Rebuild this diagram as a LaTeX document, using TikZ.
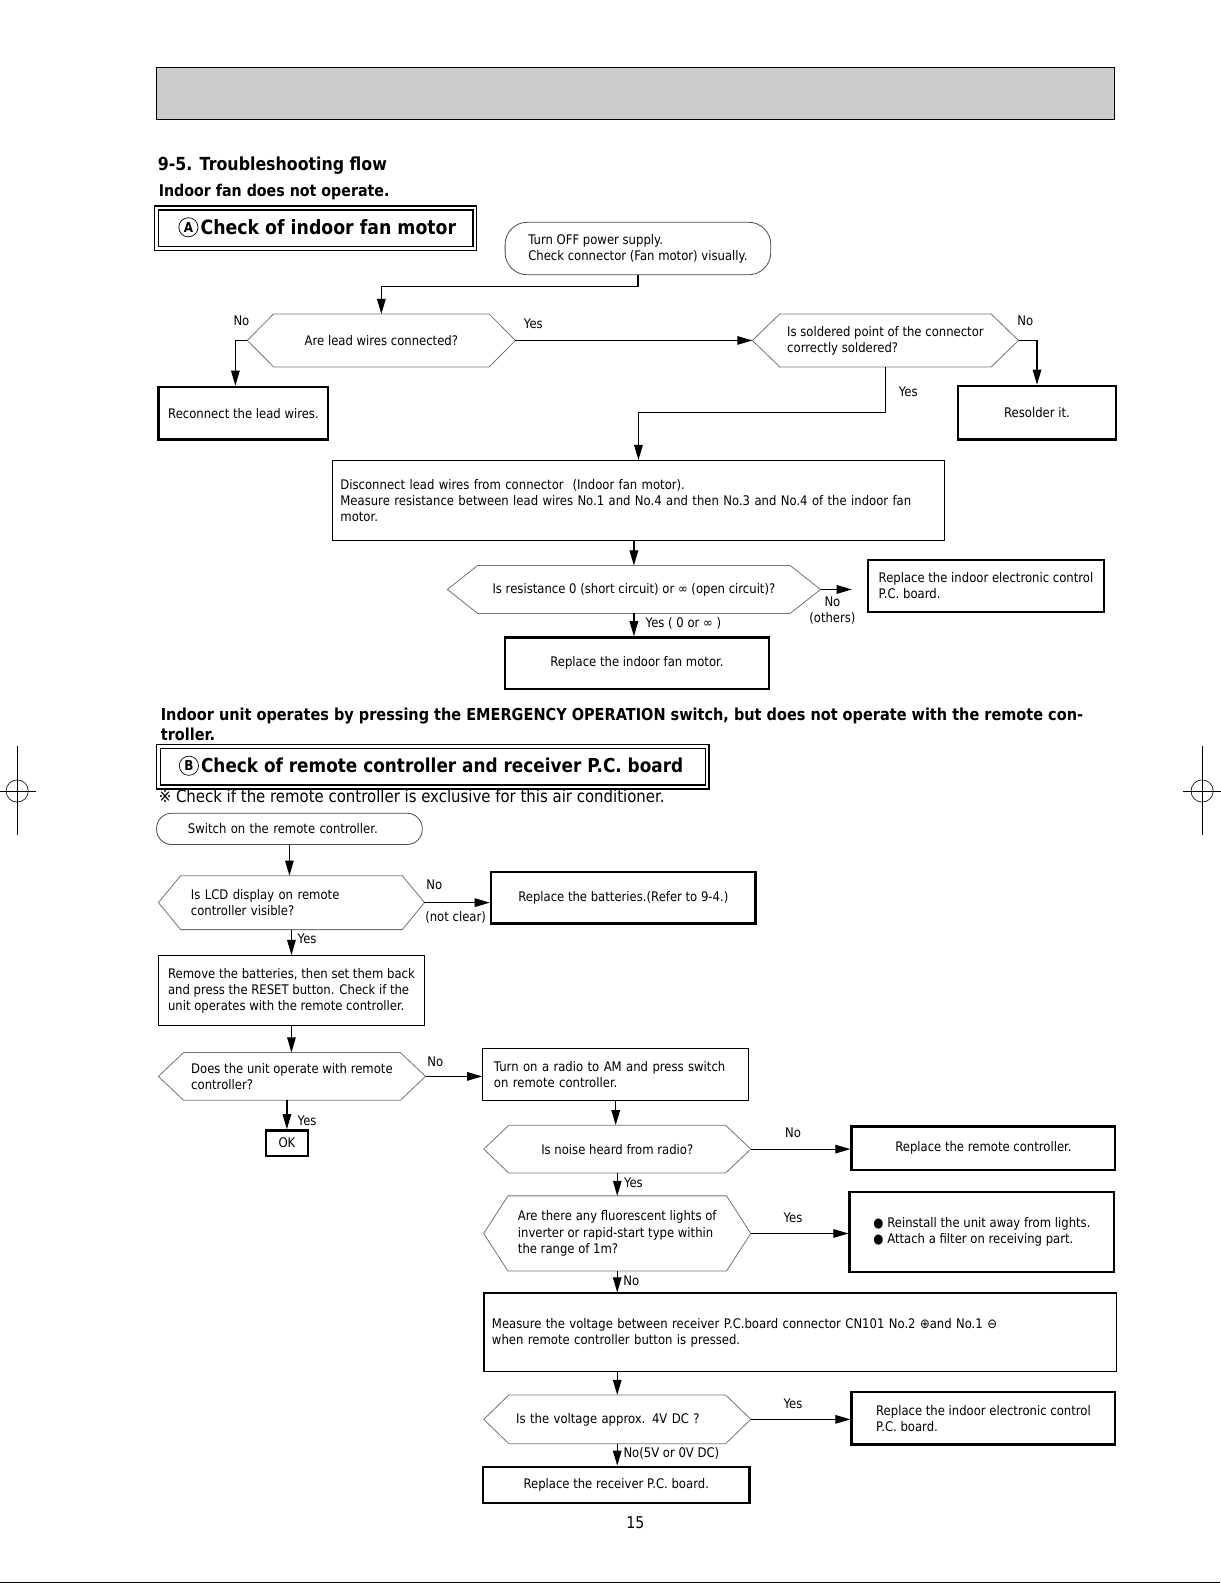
\documentclass[tikz,border=0pt]{standalone}
\usepackage{fontspec}
\setmainfont{DejaVu Sans}[FakeStretch=0.88]
\usetikzlibrary{positioning, arrows.meta}

\newcommand\flowfont{\fontsize{13.1}{16}\selectfont}
\newcommand\headfont{\fontsize{16}{20}\selectfont\bfseries}
\newcommand\wideheadfont{\fontsize{16.3}{20}\selectfont\bfseries}
\newcommand\bigheadfont{\fontsize{17.8}{21}\selectfont\bfseries}
\newcommand\titlefont{\fontsize{19.5}{23}\selectfont\bfseries}
\newcommand\markfont{\fontsize{13.5}{14}\selectfont\bfseries}
\newcommand\notefont{\fontsize{16.8}{20}\selectfont}
\newcommand\pagefont{\fontsize{16}{19}\selectfont}

% hexagon outline round a question node
\newcommand\hexframe[2]{\draw[askline] (#1.west) -- ([xshift=#2pt]#1.north west) -- ([xshift=-#2pt]#1.north east) -- (#1.east) -- ([xshift=-#2pt]#1.south east) -- ([xshift=#2pt]#1.south west) -- cycle;}

\tikzset{
  flowtext/.style={font=\flowfont, align=left, inner sep=0pt},
  dims/.style 2 args={minimum width=#1pt, minimum height=#2pt},
  heavybox/.style={draw, line width=2.3pt, flowtext},
  lightbox/.style={draw, line width=1.2pt, flowtext},
  askbox/.style={flowtext},
  askline/.style={draw=black!55, line width=0.8pt},
  endbox/.style={draw=black!70, line width=0.8pt, rounded corners=#1, flowtext},
  titlebox/.style={draw, double, double distance=2.2pt, line width=1.5pt, inner sep=0pt},
  titletext/.style={font=\titlefont, inner sep=0pt},
  circmark/.style={circle, draw, line width=0.7pt, minimum size=19pt, inner sep=0pt, font=\markfont},
  lbl/.style={font=\flowfont, inner sep=0pt},
  flow/.style={line width=1.2pt, -{Triangle[length=15pt,width=8.5pt]}},
}

\begin{document}
\begin{tikzpicture}[x=1pt, y=-1pt]
\useasboundingbox (0,0) rectangle (1208,1567);

% page frame
\fill[black!20] (155,67) rectangle (1103,118);
\draw[line width=1.3pt] (155,67) rectangle (1103,118);
\foreach \cx in {17,1190} {
  \draw[line width=0.6pt] (\cx,738) -- (\cx,827);
  \draw[line width=0.6pt] (\cx-19,783) -- (\cx+19,783);
  \draw[line width=0.6pt] (\cx,783) circle[radius=11pt];
}
\draw[line width=2pt] (0,1566.5) -- (1208,1566.5);

% headings
\node[font=\bigheadfont, anchor=west, inner sep=0pt] (hSection) at (156,164) {9-5. Troubleshooting flow};
\node[font=\headfont, anchor=west, inner sep=0pt] (hFan) at (157,190) {Indoor fan does not operate.};
\node[titlebox, dims={315}{40}] (boxA) at (312.5,226) {};
\node[circmark] (circA) at (186.5,225) {A};
\node[titletext, right=2pt of circA] (titleA) {Check of indoor fan motor};

% A: indoor fan motor
\node[endbox=22pt, dims={263}{52}] (tOff) at (631.5,246) {Turn OFF power supply.\\Check connector (Fan motor) visually.};
\node[askbox, dims={265}{52}] (qLead) at (377.5,337) {Are lead wires connected?};
\node[askbox, dims={263}{52}] (qSolder) at (876.5,337) {Is soldered point of the connector\\correctly soldered?};
\node[heavybox, dims={168}{52}] (aReconnect) at (241,409) {Reconnect the lead wires.};
\node[heavybox, dims={157}{53}] (aResolder) at (1026.5,408.5) {Resolder it.};
\node[lightbox, dims={606}{79}, text width=590pt, inner xsep=8pt] (aDisconnect) at (632,495.5) {Disconnect lead wires from connector\ \ (Indoor fan motor).\\Measure resistance between lead wires No.1 and No.4 and then No.3 and No.4 of the indoor fan\\motor.};
\node[askbox, dims={369}{47}] (qOhm) at (627.5,583.5) {Is resistance 0 (short circuit) or ∞ (open circuit)?};
\node[heavybox, dims={234}{52}] (aBoard) at (976,580) {Replace the indoor electronic control\\P.C. board.};
\node[heavybox, dims={261}{51}] (aMotor) at (630.5,656.5) {Replace the indoor fan motor.};
\coordinate (ohmNo) at ([xshift=31pt]qOhm.east);

\hexframe{qLead}{26}
\hexframe{qSolder}{27}
\hexframe{qOhm}{30}

\draw[flow] (tOff.south) -- ++(0,11) -| (qLead.north);
\draw[flow] (qLead.west) -| ([xshift=-8pt]aReconnect.north);
\draw[flow] (qLead.east) -- (qSolder.west);
\draw[flow] (qSolder.east) -| (aResolder.north);
\draw[flow] (qSolder.south) -- ++(0,45) -| (aDisconnect.north);
\draw[flow] (qOhm.north |- aDisconnect.south) -- (qOhm.north);
\draw[flow] (qOhm.east) -- (ohmNo);
\draw[flow] (qOhm.south) -- (qOhm.south |- aMotor.north);

\node[lbl] (nLead) at (239,318) {No};
\node[lbl] (yLead) at (528,320) {Yes};
\node[lbl] (nSolder) at (1015,318) {No};
\node[lbl] (ySolder) at (899,388) {Yes};
\node[lbl, align=center] (nOhm) at (824,604.5) {No\\(others)};
\node[lbl, anchor=west] (yOhm) at (639,617) {Yes ( 0 or ∞ )};

% B: remote controller and receiver
\node[font=\wideheadfont, anchor=west, align=left, inner sep=0pt] (hRemote) at (159,717) {Indoor unit operates by pressing the EMERGENCY OPERATION switch, but does not operate with the remote con-\\troller.};
\node[titlebox, dims={543}{40}] (boxB) at (428.5,759) {};
\node[circmark] (circB) at (187,758) {B};
\node[titletext, font=\fontsize{19}{23}\selectfont\bfseries, right=2pt of circB] (titleB) {Check of remote controller and receiver P.C. board};
\node[font=\notefont, anchor=west, inner sep=0pt] (hNote) at (157,788) {※ Check if the remote controller is exclusive for this air conditioner.};

\node[endbox=15pt, dims={263}{31}, text width=201pt, inner xsep=31pt] (tSwitch) at (286.5,820.5) {Switch on the remote controller.};
\node[askbox, dims={263}{53}, text width=199pt, inner xsep=32pt] (qLcd) at (288.5,893.5) {Is LCD display on remote\\controller visible?};
\node[heavybox, dims={262}{51}] (aBattery) at (617,888.5) {Replace the batteries.(Refer to 9-4.)};
\node[lightbox, dims={263}{69}] (aReset) at (288.5,980.5) {Remove the batteries, then set them back\\and press the RESET button. Check if the\\unit operates with the remote controller.};
\node[askbox, dims={264}{47}] (qUnit) at (289,1065.5) {Does the unit operate with remote\\controller?};
\node[lightbox, dims={263}{51}, text width=241pt, inner xsep=11pt] (aRadio) at (609.5,1063.5) {Turn on a radio to AM and press switch\\on remote controller.};
\node[heavybox, dims={42}{25}] (aOk) at (284,1131.5) {OK};
\node[askbox, dims={264}{47}] (qNoise) at (611,1137.5) {Is noise heard from radio?};
\node[heavybox, dims={261}{43}] (aRemote) at (973.5,1136.5) {Replace the remote controller.};
\node[askbox, dims={264}{74}] (qLight) at (611,1221) {Are there any fluorescent lights of\\inverter or rapid-start type within\\the range of 1m?};
\node[heavybox, dims={262}{79}] (aLights) at (972,1219.5) {● Reinstall the unit away from lights.\\● Attach a filter on receiving part.};
\node[lightbox, dims={626}{78}, text width=610pt, inner xsep=8pt] (aMeasure) at (792,1319) {Measure the voltage between receiver P.C.board connector CN101 No.2~⊕and No.1 ⊖\\when remote controller button is pressed.};
\node[askbox, dims={264}{48}, text width=200pt, inner xsep=32pt] (qVolt) at (611,1405) {Is the voltage approx. 4V DC ?};
\node[heavybox, dims={261}{52}] (aBoard2) at (973.5,1404) {Replace the indoor electronic control\\P.C. board.};
\node[heavybox, dims={264}{36}] (aReceiver) at (610,1470) {Replace the receiver P.C. board.};

\hexframe{qLcd}{22}
\hexframe{qUnit}{25}
\hexframe{qNoise}{25}
\hexframe{qLight}{24}
\hexframe{qVolt}{25}

\draw[flow] (tSwitch.south) -- (tSwitch.south |- qLcd.north);
\draw[flow] (qLcd.east) -- (qLcd.east -| aBattery.west);
\draw[flow] (qLcd.south) -- (qLcd.south |- aReset.north);
\draw[flow] (aReset.south) -- (aReset.south |- qUnit.north);
\draw[flow] (qUnit.east) -- (qUnit.east -| aRadio.west);
\draw[flow] (aOk.north |- qUnit.south) -- (aOk.north);
\draw[flow] (aRadio.south) -- (aRadio.south |- qNoise.north);
\draw[flow] (qNoise.east) -- (qNoise.east -| aRemote.west);
\draw[flow] (qNoise.south) -- (qLight.north);
\draw[flow] (qLight.east) -- (qLight.east -| aLights.west);
\draw[flow] (qLight.south) -- (qLight.south |- aMeasure.north);
\draw[flow] (qVolt.north |- aMeasure.south) -- (qVolt.north);
\draw[flow] (qVolt.east) -- (qVolt.east -| aBoard2.west);
\draw[flow] (qVolt.south) -- (qVolt.south |- aReceiver.north);

\node[lbl] (nLcd) at (430,876) {No};
\node[lbl] (cLcd) at (451,908) {(not clear)};
\node[lbl] (yLcd) at (304,929) {Yes};
\node[lbl] (nUnit) at (431,1051) {No};
\node[lbl] (yUnit) at (304,1109) {Yes};
\node[lbl] (nNoise) at (785,1121) {No};
\node[lbl] (yNoise) at (627,1171) {Yes};
\node[lbl] (yLight) at (785,1205) {Yes};
\node[lbl] (nLight) at (625,1268) {No};
\node[lbl] (yVolt) at (785,1390) {Yes};
\node[lbl, anchor=west] (nVolt) at (617,1439) {No(5V or 0V DC)};

\node[font=\pagefont, inner sep=0pt] (pageNo) at (629,1507) {15};
\end{tikzpicture}
\end{document}
